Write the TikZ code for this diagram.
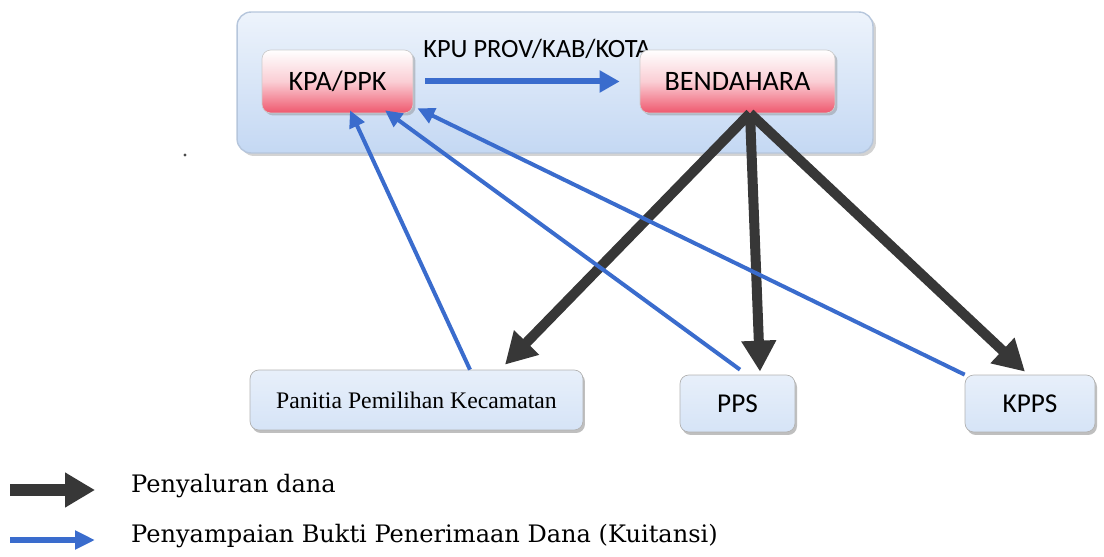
\documentclass[tikz,border=0pt]{standalone}
\usepackage{fontspec}
\setsansfont{Carlito}
\newfontfamily\legendfont{DejaVu Serif}
\newfontfamily\pplfont{Liberation Serif}
\usetikzlibrary{arrows.meta,shadows}

\definecolor{fundgray}{RGB}{55,55,55}
\definecolor{proofblue}{RGB}{58,108,205}
\definecolor{paleblue}{RGB}{196,216,243}
\definecolor{boxred}{RGB}{236,58,84}

\tikzset{
  kpubox/.style={rounded corners=8pt, draw=paleblue!80!gray, thick,
    top color=white!70!paleblue, bottom color=paleblue,
    drop shadow={shadow xshift=.06cm, shadow yshift=-.06cm, opacity=.35}},
  officebox/.style={rounded corners=5pt, draw=gray!40, top color=white,
    bottom color=boxred!85, middle color=white!75!boxred,
    font=\sffamily\fontsize{16}{18}\selectfont,
    drop shadow={shadow xshift=.05cm, shadow yshift=-.05cm, opacity=.4}},
  unitbox/.style={rounded corners=5pt, draw=gray!60, top color=white!60!paleblue,
    bottom color=paleblue!70, font=\sffamily\fontsize{15.5}{18}\selectfont,
    drop shadow={shadow xshift=.04cm, shadow yshift=-.06cm, opacity=.5}},
  flow/.style={draw=fundgray, line width=0.2cm,
    -{Triangle[length=0.62cm,width=0.66cm]}},
  proof/.style={draw=proofblue, line width=0.08cm,
    -{Triangle[length=0.34cm,width=0.32cm]}},
}

\begin{document}
\begin{tikzpicture}[x=0.02cm,y=-0.02cm]
    \useasboundingbox (0,0) rectangle (1104,557);
    % upper office
    \node[kpubox, minimum width=12.72cm, minimum height=2.82cm] (kpu) at (555,82.5) {};
    \node[font=\sffamily\fontsize{15}{18}\selectfont] (kputitle) at (537,49) {KPU PROV/KAB/KOTA};
    \node[officebox, minimum width=3.02cm, minimum height=1.26cm] (ppk) at (337.5,81.5) {KPA/PPK};
    \node[officebox, minimum width=3.9cm, minimum height=1.26cm] (bend) at (737.5,81.5) {BENDAHARA};
    \fill[black!70] (185,155) circle (1.6);
    % lower units
    \node[unitbox, minimum width=6.66cm, minimum height=1.2cm,
          font=\pplfont\fontsize{13.5}{16}\selectfont] (pan) at (416.5,400) {Panitia Pemilihan Kecamatan};
    \node[unitbox, minimum width=2.3cm, minimum height=1.14cm] (pps) at (737.5,403.5) {PPS};
    \node[unitbox, minimum width=2.6cm, minimum height=1.14cm] (kpps) at (1030,403.5) {KPPS};
    % arrows
    \draw[draw=proofblue, line width=0.12cm, -{Triangle[length=0.4cm,width=0.42cm]},
          shorten <=0.24cm, shorten >=0.4cm] (ppk.east) -- (bend.west);
    \draw[flow] ([xshift=0.25cm]bend.south) -- ([xshift=1.77cm,yshift=0.1cm]pan.north);
    \draw[flow] ([xshift=0.25cm]bend.south) -- ([xshift=0.45cm,yshift=0.06cm]pps.north);
    \draw[flow] ([xshift=0.25cm]bend.south) -- ([xshift=-0.1cm,yshift=0.06cm]kpps.north);
    \draw[proof] ([xshift=1.07cm]pan.north) -- ([xshift=0.25cm,yshift=0.06cm]ppk.south);
    \draw[proof] ([xshift=0.05cm,yshift=0.1cm]pps.north) -- ([xshift=0.95cm,yshift=0.06cm]ppk.south);
    \draw[proof] (kpps.north west) -- ([xshift=1.6cm,yshift=0.1cm]ppk.south);
    % legend
    \node[anchor=west, font=\legendfont\fontsize{13.7}{17}\selectfont] (legfund) at (125,486) {Penyaluran dana};
    \node[anchor=west, font=\legendfont\fontsize{13.7}{17}\selectfont] (legproof) at (125,536) {Penyampaian Bukti Penerimaan Dana (Kuitansi)};
    \coordinate (fundtail) at (10,490);
    \coordinate (prooftail) at (10,540);
    \draw[draw=fundgray, line width=0.24cm, -{Triangle[length=0.6cm,width=0.66cm]},
          shorten >=0.6cm] (fundtail) -- (fundtail -| legfund.west);
    \draw[draw=proofblue, line width=0.12cm, -{Triangle[length=0.4cm,width=0.36cm]},
          shorten >=0.6cm] (prooftail) -- (prooftail -| legproof.west);
\end{tikzpicture}
\end{document}
